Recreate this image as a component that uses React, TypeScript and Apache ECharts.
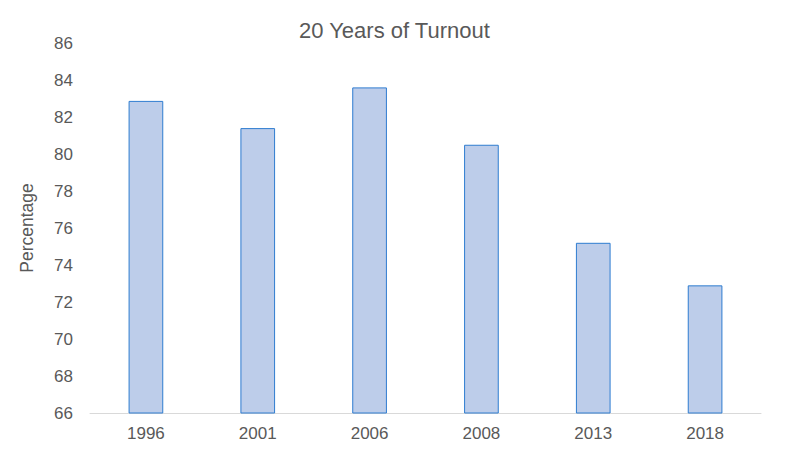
import { useEffect, useRef } from 'react';
import * as echarts from 'echarts';

const years = ['1996', '2001', '2006', '2008', '2013', '2018'];
const turnout = [82.87, 81.4, 83.6, 80.5, 75.2, 72.9];

export default function App() {
  const ref = useRef<HTMLDivElement>(null);

  useEffect(() => {
    if (!ref.current) return;
    const chart = echarts.init(ref.current, undefined, { renderer: 'svg' });
    const font = 'Liberation Sans, Arial, sans-serif';
    chart.setOption({
      animation: false,
      backgroundColor: '#ffffff',
      title: {
        text: '20 Years of Turnout',
        left: 286,
        top: 6,
        textStyle: { fontFamily: font, fontSize: 22, fontWeight: 'normal', color: '#595959' },
      },
      grid: { left: 82, right: 31, top: 35, bottom: 24 },
      xAxis: {
        type: 'category',
        data: years,
        axisLine: { lineStyle: { color: '#d9d9d9', width: 1 } },
        axisTick: { show: false },
        axisLabel: { fontFamily: font, fontSize: 17, color: '#595959', margin: 12 },
      },
      yAxis: {
        type: 'value',
        min: 66,
        max: 86,
        interval: 2,
        name: 'Percentage',
        nameLocation: 'middle',
        nameGap: 54,
        nameTextStyle: { fontFamily: font, fontSize: 17.5, color: '#595959' },
        splitLine: { show: false },
        axisLine: { show: false },
        axisTick: { show: false },
        axisLabel: { fontFamily: font, fontSize: 17, color: '#595959', margin: 17 },
      },
      series: [
        {
          type: 'bar',
          data: turnout,
          barWidth: '31%',
          itemStyle: { color: '#bdcdea', borderColor: '#2e7cd0', borderWidth: 1 },
        },
      ],
    });
    return () => chart.dispose();
  }, []);

  return <div ref={ref} style={{ width: 784, height: 434 }} />;
}
